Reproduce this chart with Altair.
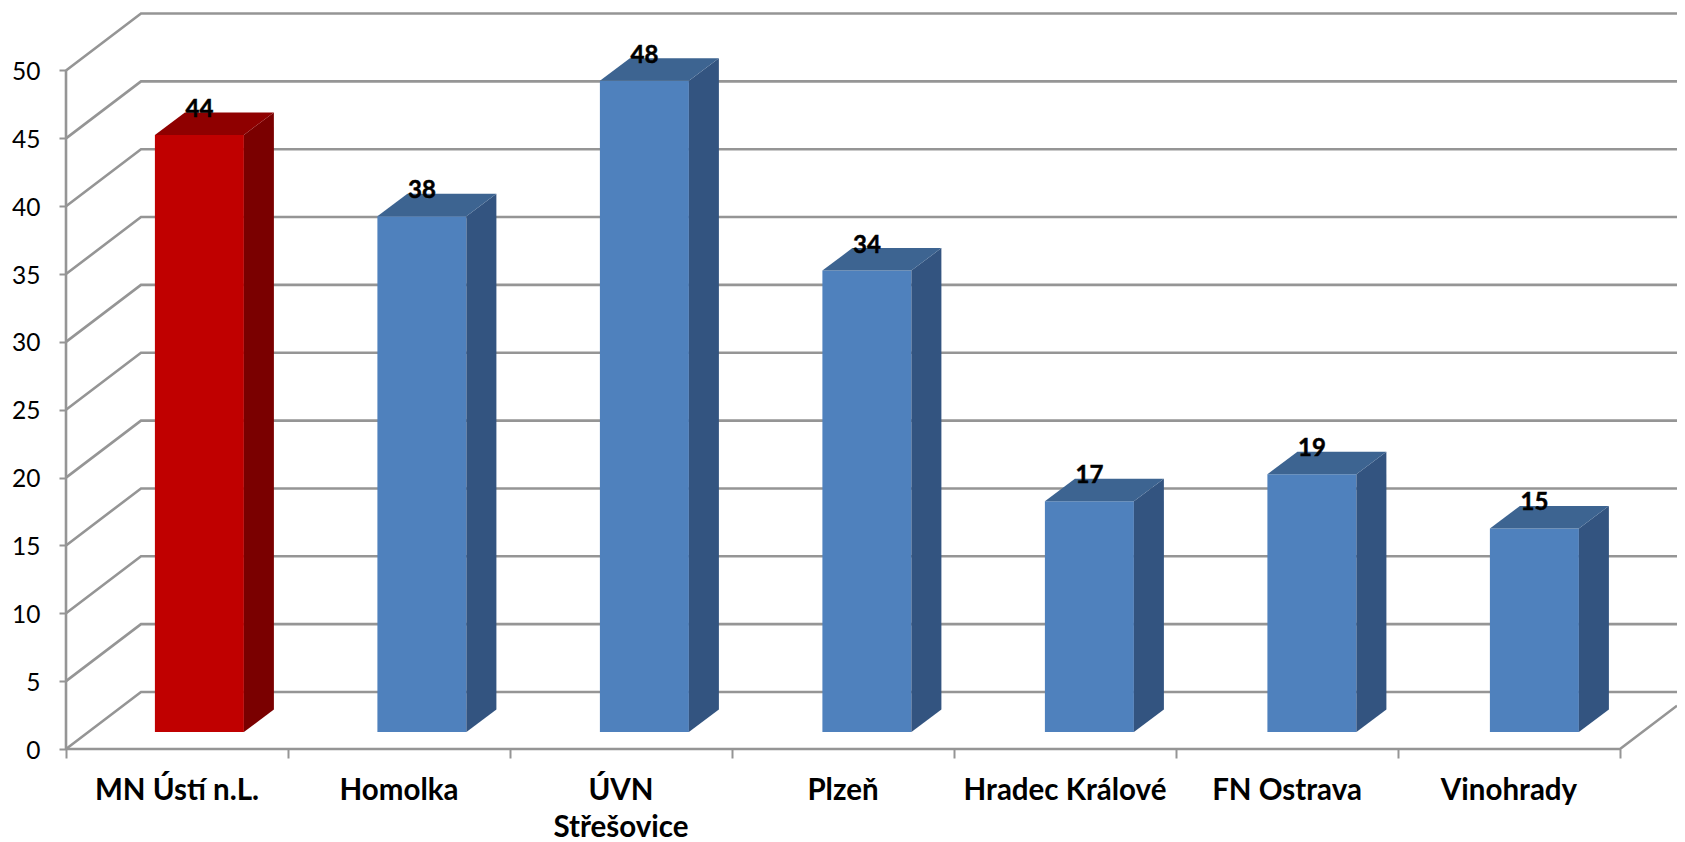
import altair as alt
import pandas as pd

categories = ["MN Ústí n.L.", "Homolka", "ÚVN\nStřešovice", "Plzeň", "Hradec Králové", "FN Ostrava", "Vinohrady"]
values = [44, 38, 48, 34, 17, 19, 15]
highlight = ["MN Ústí n.L."]
y_ticks = list(range(0, 55, 5))
x_ticks = list(range(0, 8))

# one category step and one value unit, in screen pixels
STEP = 222.0
BAR_STEP = 222.5 / STEP
UNIT = 13.57
PLOT_W = 1611
PLOT_H = 741
X_MAX = PLOT_W / STEP
Y_MAX = PLOT_H / UNIT

WALL_DX, WALL_DY = 75 / STEP, 57 / UNIT
BAR_OX, BAR_OY = 22.4 / STEP, 17 / UNIT
BAR_W = 89 / STEP
DEPTH_X, DEPTH_Y = 30 / STEP, 22.5 / UNIT
LABEL_UP = 25 / UNIT

GRID = "#959595"
PALETTE = {
    "blue": ("#4f81bd", "#335480", "#3d6491"),
    "red": ("#c00000", "#7a0000", "#8f0000"),
}

# back wall, floor and axis lines
lines = []
for t in y_ticks:
    for (x, y) in [(0, t), (WALL_DX, t + WALL_DY), (X_MAX, t + WALL_DY)]:
        lines.append({"id": f"g{t}", "x": x, "y": y})
for (x, y) in [(0, 0), (7, 0), (X_MAX, (X_MAX - 7) / WALL_DX * WALL_DY)]:
    lines.append({"id": "floor", "x": x, "y": y})
for y in (0, 50):
    lines.append({"id": "axis", "x": 0, "y": y})

# bar faces
faces = []
labels = []
for i, (c, v) in enumerate(zip(categories, values)):
    front, side, top = PALETTE["red" if c in highlight else "blue"]
    centre = 0.5 + i * BAR_STEP + BAR_OX
    l, r = centre - BAR_W / 2, centre + BAR_W / 2
    b, t = BAR_OY, BAR_OY + v
    for x, y, y2 in [(l, b, t), (r, b, t)]:
        faces.append({"id": f"{i}f", "x": x, "y": y, "y2": y2, "fill": front})
    for x, y, y2 in [(r, b, t), (r + DEPTH_X, b + DEPTH_Y, t + DEPTH_Y)]:
        faces.append({"id": f"{i}s", "x": x, "y": y, "y2": y2, "fill": side})
    for x, y, y2 in [(l, t, t), (l + DEPTH_X, t, t + DEPTH_Y), (r, t, t + DEPTH_Y),
                     (r + DEPTH_X, t + DEPTH_Y, t + DEPTH_Y)]:
        faces.append({"id": f"{i}t", "x": x, "y": y, "y2": y2, "fill": top})
    labels.append({"x": centre, "y": t + LABEL_UP, "text": str(v)})

cats = [{"x": i + 0.5, "y": -2.05, "text": c} for i, c in enumerate(categories)]

x_scale = alt.Scale(domain=[0, X_MAX], nice=False, zero=False)
y_scale = alt.Scale(domain=[0, Y_MAX], nice=False, zero=False)
X = alt.X("x:Q", scale=x_scale, axis=alt.Axis(
    values=x_ticks, labels=False, title=None, grid=False, domain=False,
    tickColor=GRID, tickWidth=2, tickSize=9))
Y = alt.Y("y:Q", scale=y_scale, axis=alt.Axis(
    values=y_ticks, title=None, grid=False, domain=False,
    tickColor=GRID, tickWidth=2, tickSize=7, labelPadding=19, labelOffset=2,
    labelFont="Lato", labelFontSize=24.5, labelColor="#000000"))

grid = alt.Chart(pd.DataFrame(lines)).mark_line(color=GRID, strokeWidth=2.6).encode(
    x=X, y=Y, detail="id:N")

bars = alt.Chart(pd.DataFrame(faces)).mark_area(orient="vertical").encode(
    x=X, y=Y, y2="y2:Q", detail="id:N",
    fill=alt.Fill("fill:N", scale=None),
)

val_text = alt.Chart(pd.DataFrame(labels)).mark_text(
    font="Lato", fontSize=24, fontWeight="bold", color="#000000", baseline="middle",
    stroke="#000000", strokeWidth=0.5
).encode(x=X, y=Y, text="text:N")

cat_text = alt.Chart(pd.DataFrame(cats)).mark_text(
    font="Lato", fontSize=29.5, fontWeight="bold", color="#000000", baseline="top",
    lineBreak="\n", lineHeight=37.5, align="center"
).encode(x=X, y=Y, text="text:N")

chart = alt.layer(grid, bars, val_text, cat_text).properties(
    width=PLOT_W, height=PLOT_H,
    autosize=alt.AutoSizeParams(type="none"),
    padding={"left": 58, "top": 0, "right": 0, "bottom": 93},
).configure_view(stroke=None)

chart.save("out.html", embed_options={"renderer": "svg", "actions": False})
